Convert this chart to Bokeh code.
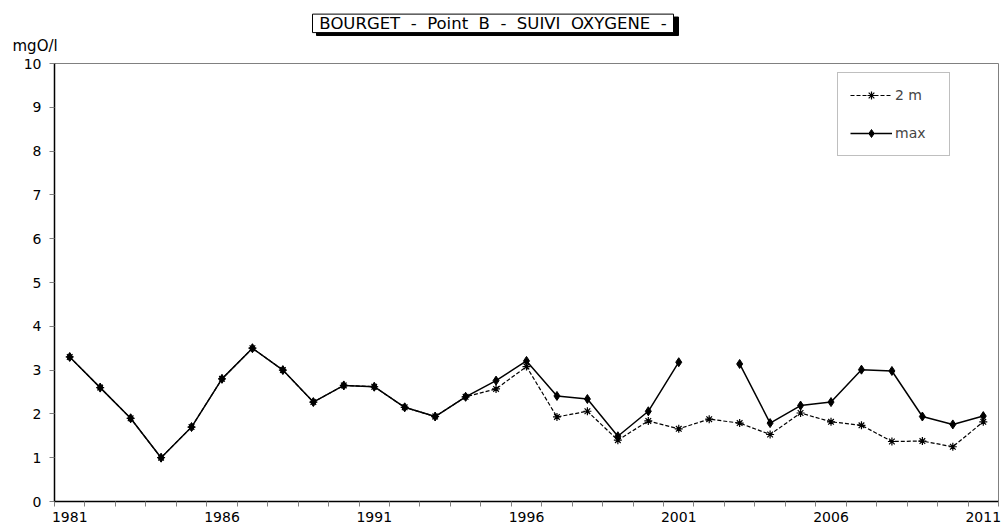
from bokeh.plotting import figure
from bokeh.models import Range1d, FixedTicker, Legend, LegendItem, Title
from bokeh.layouts import column
from bokeh.core.properties import value
from bokeh.embed import file_html
from bokeh.resources import INLINE

NAN = float("nan")

years = list(range(1981, 2012))
o2_2m = [3.30, 2.60, 1.90, 1.00, 1.70, 2.80, 3.50, 3.00, 2.27, 2.65,
         2.62, 2.15, 1.94, 2.39, 2.57, 3.08, 1.93, 2.06, 1.40, 1.84,
         1.66, 1.88, 1.79, 1.53, 2.02, 1.82, 1.74, 1.37, 1.38, 1.25, 1.82]
o2_max = [3.30, 2.60, 1.90, 1.00, 1.70, 2.80, 3.50, 3.00, 2.27, 2.65,
          2.62, 2.15, 1.94, 2.39, 2.76, 3.21, 2.41, 2.34, 1.49, 2.06,
          3.18, NAN, 3.14, 1.79, 2.19, 2.27, 3.01, 2.98, 1.94, 1.76, 1.95]
x_tick_pos = [1981, 1986, 1991, 1996, 2001, 2006, 2011]
x_tick_labels = ["1981", "1986", "1991", "1996", "2001", "2006", "2011"]
y_ticks = list(range(0, 11))
series_names = ["2 m", "max"]
title_text = "BOURGET  -  Point  B  -  SUIVI  OXYGENE  -"
y_unit = "mgO/l"

FONT = "DejaVu Sans"
GRAY = "#808080"
W = 1001
FL, FR = 54, 3      # frame borders (px)
BOX_H = 37          # title-box area height
UNIT_H = 19         # unit label band height
TOP_H = BOX_H + UNIT_H

# ---------- header strip (title box + unit label) ----------
top = figure(width=W, height=TOP_H, x_range=Range1d(FL, W - FR), y_range=Range1d(BOX_H, 0),
             x_axis_type=None, y_axis_type=None, output_backend="svg",
             toolbar_location=None, min_border_left=FL, min_border_right=FR,
             min_border_top=0, min_border_bottom=UNIT_H, outline_line_color=None)
top.grid.visible = False
top.quad(left=[316], right=[678], top=[17], bottom=[36],
         fill_color="black", line_color="black")
top.quad(left=[312], right=[673], top=[14], bottom=[33],
         fill_color="white", line_color="black", line_width=1)
top.text(x=[492.5], y=[24], text=[title_text.replace("  ", " \u00a0")],
         text_font=value(FONT), text_font_size="16.5px", text_align="center",
         text_baseline="middle", text_color="black")
unit_title = Title(text=y_unit, align="left", offset=-42, vertical_align="top",
                   standoff=0, text_font=FONT, text_font_size="15px",
                   text_font_style="normal", text_color="black")
top.add_layout(unit_title, "below")

# ---------- main chart ----------
p = figure(width=W, height=524 - TOP_H,
           x_range=Range1d(years[0] - 0.5, years[-1] + 0.5),
           y_range=Range1d(0, 10),
           output_backend="svg", toolbar_location=None,
           min_border_left=FL, min_border_right=FR,
           min_border_top=63 - TOP_H, min_border_bottom=22)
p.grid.visible = False
p.outline_line_color = GRAY

xa = p.xaxis[0]
xa.ticker = FixedTicker(ticks=x_tick_pos,
                        minor_ticks=[y - 0.5 for y in years] + [years[-1] + 0.5])
xa.major_label_overrides = {t: l for t, l in zip(x_tick_pos, x_tick_labels)}
xa.major_tick_out = 0
xa.major_tick_in = 0
xa.minor_tick_out = 5
xa.minor_tick_in = 0
xa.minor_tick_line_color = GRAY
xa.axis_line_color = "black"
xa.axis_line_width = 1.5
xa.major_label_standoff = 5
xa.major_label_text_font = FONT
xa.major_label_text_font_size = "14px"
xa.major_label_text_color = "black"

ya = p.yaxis[0]
ya.ticker = FixedTicker(ticks=y_ticks, minor_ticks=[])
ya.major_tick_out = 5
ya.major_tick_in = 0
ya.minor_tick_out = 0
ya.major_tick_line_color = GRAY
ya.axis_line_color = "black"
ya.axis_line_width = 1.5
ya.major_label_standoff = 8
ya.major_label_text_font = FONT
ya.major_label_text_font_size = "14px"
ya.major_label_text_color = "black"

l1 = p.line(years, o2_2m, line_color="black", line_width=1.2, line_dash="4 2")
s1 = p.scatter(years, o2_2m, marker="asterisk", size=8, line_color="black", line_width=1.2)
l2 = p.line(years, o2_max, line_color="black", line_width=1.5)
s2 = p.scatter(years, o2_max, marker="diamond", size=9, line_color="black", fill_color="black")

legend = Legend(items=[LegendItem(label=series_names[0], renderers=[l1, s1]),
                       LegendItem(label=series_names[1], renderers=[l2, s2])],
                location=(783, 345))
legend.border_line_color = GRAY
legend.border_line_width = 1
legend.padding = 12
legend.spacing = 18
legend.margin = 0
legend.glyph_width = 42
legend.glyph_height = 20
legend.label_height = 20
legend.label_width = 42
legend.label_standoff = 3
legend.label_text_font = FONT
legend.label_text_font_size = "14px"
legend.background_fill_color = "white"
p.add_layout(legend)

layout = column(top, p, spacing=0)
open("out.html", "w").write(file_html(layout, INLINE))
